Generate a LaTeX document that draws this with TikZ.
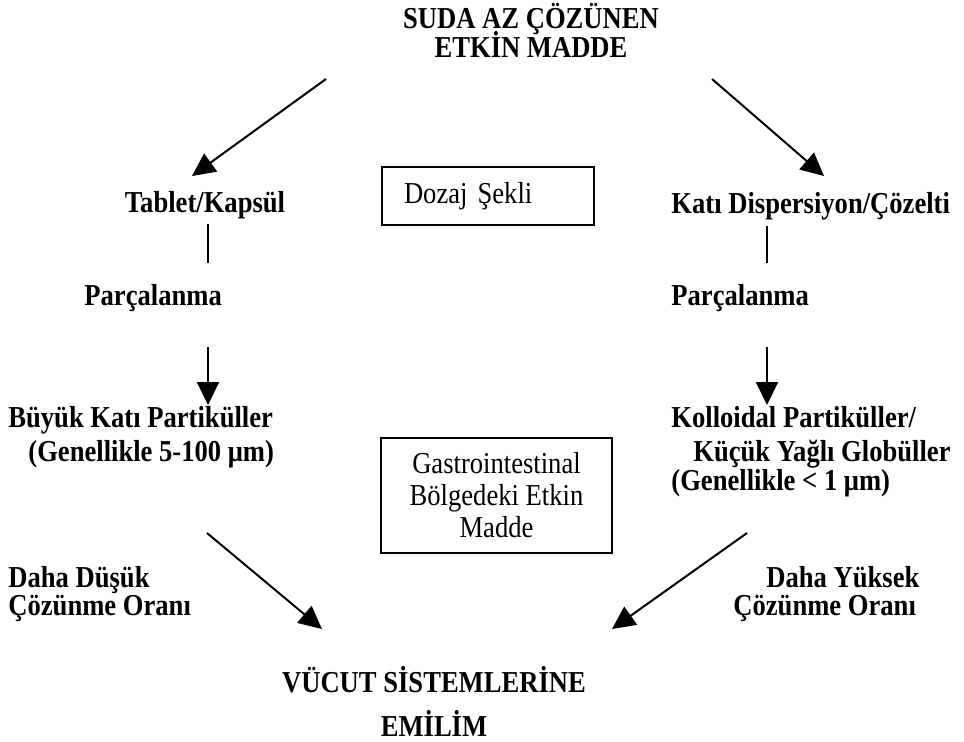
\documentclass[tikz,border=0pt]{standalone}
\usepackage{fontspec}
\setmainfont[FakeStretch=0.875]{Liberation Serif}
\usetikzlibrary{arrows.meta}
\begin{document}
\begin{tikzpicture}[
x=0.5pt,y=-0.5pt,
every node/.style={inner sep=0pt,font=\fontsize{15.2pt}{16pt}\selectfont\bfseries},
txt/.style={anchor=base west},
mid/.style={anchor=base},
framed/.style={draw,line width=1pt,font=\fontsize{15.2pt}{16pt}\selectfont\mdseries},
arr/.style={line width=1pt,-{Triangle[length=11.5pt,width=11pt]}}
]
\useasboundingbox (0,0) rectangle (964,741);
\node[mid] (top1) at (531,28) {SUDA AZ ÇÖZÜNEN};
\node[mid] (top2) at (531,57) {ETKİN MADDE};
\node[mid] (tablet) at (205,212) {Tablet/Kapsül};
\node[framed,minimum width=106pt,minimum height=29pt,text width=84pt,inner xsep=11pt,align=left] (dozaj) at (488,196) {Dozaj Şekli};
\node[txt] (kati) at (671,213) {Katı Dispersiyon/Çözelti};
\node[txt] (parcL) at (84,305) {Parçalanma};
\node[txt] (parcR) at (671,305) {Parçalanma};
\node[txt] (buyuk1) at (8,427) {Büyük Katı Partiküller};
\node[txt] (buyuk2) at (28,461) {(Genellikle 5-100 μm)};
\node[txt] (kollo1) at (671,427) {Kolloidal Partiküller/};
\node[txt] (kollo2) at (693,461) {Küçük Yağlı Globüller};
\node[txt] (kollo3) at (671,490) {(Genellikle < 1 μm)};
\node[framed,minimum width=115.5pt,minimum height=57.5pt,align=center] (gibox) at (496.5,495.5) {Gastrointestinal\\Bölgedeki Etkin\\Madde};
\node[txt] (dusuk1) at (8,587) {Daha Düşük};
\node[txt] (dusuk2) at (8,615) {Çözünme Oranı};
\node[txt] (yuksek1) at (766,587) {Daha Yüksek};
\node[txt] (yuksek2) at (733,615) {Çözünme Oranı};
\node[mid] (emilim1) at (434,692) {VÜCUT SİSTEMLERİNE};
\node[mid] (emilim2) at (434,736) {EMİLİM};
\coordinate (topL) at (326,79);
\coordinate (tabletIn) at (192,176);
\coordinate (topR) at (712,79);
\coordinate (katiIn) at (824,176);
\coordinate (lineLa) at (208,224);
\coordinate (lineLb) at (208,263);
\coordinate (lineRa) at (767,226);
\coordinate (lineRb) at (767,263);
\coordinate (downLa) at (208,347);
\coordinate (downLb) at (208,405);
\coordinate (downRa) at (767,347);
\coordinate (downRb) at (767,405);
\coordinate (lowL) at (207,533);
\coordinate (emL) at (322,629);
\coordinate (lowR) at (747,533);
\coordinate (emR) at (612,629);
\draw[arr] (topL) -- (tabletIn);
\draw[arr] (topR) -- (katiIn);
\draw[line width=1pt] (lineLa) -- (lineLb);
\draw[line width=1pt] (lineRa) -- (lineRb);
\draw[arr] (downLa) -- (downLb);
\draw[arr] (downRa) -- (downRb);
\draw[arr] (lowL) -- (emL);
\draw[arr] (lowR) -- (emR);
\end{tikzpicture}
\end{document}
